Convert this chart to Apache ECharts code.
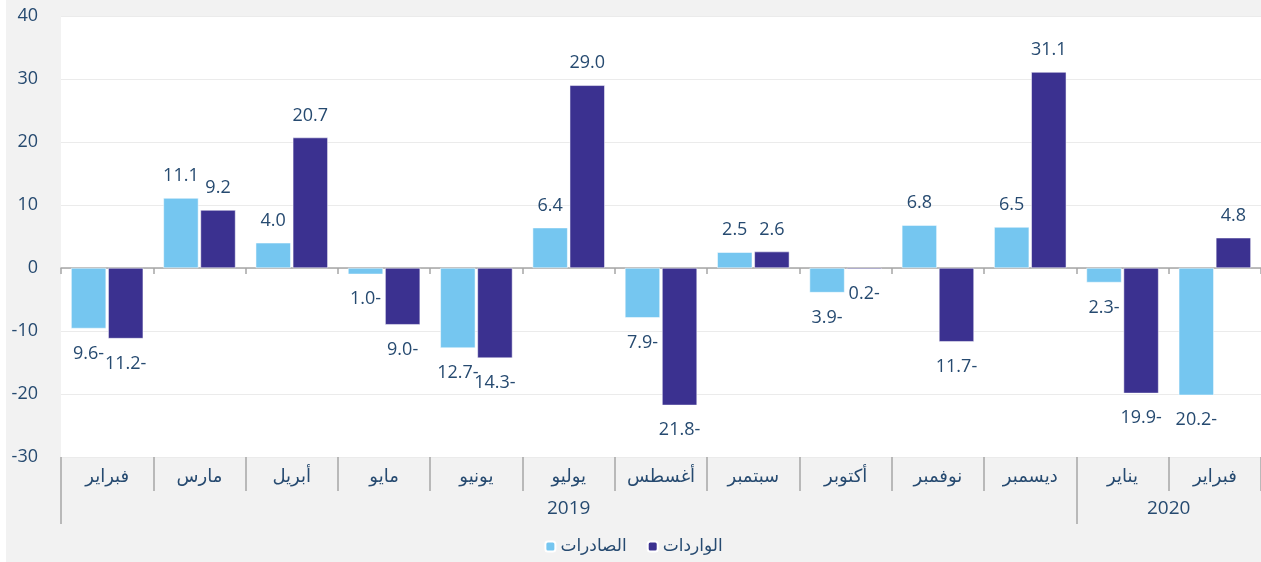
<!DOCTYPE html>
<html>
<head>
<meta charset="utf-8">
<script src="https://cdn.jsdelivr.net/npm/echarts@6/dist/echarts.min.js"></script>
<style>
html,body{margin:0;padding:0;background:#ffffff;}
#c{position:absolute;left:6px;top:0;width:1255px;height:562px;background:#f2f2f2;}
</style>
</head>
<body>
<div id="c"></div>
<script>
const months = ['فبراير','مارس','أبريل','مايو','يونيو','يوليو','أغسطس','سبتمبر','أكتوبر','نوفمبر','ديسمبر','يناير','فبراير'];
const years = ['2019','2020'];
const yearSpans = [11, 2];
const seriesNames = ['الصادرات','الواردات'];
const exportsData = [-9.6, 11.1, 4.0, -1.0, -12.7, 6.4, -7.9, 2.5, -3.9, 6.8, 6.5, -2.3, -20.2];
const importsData = [-11.2, 9.2, 20.7, -9.0, -14.3, 29.0, -21.8, 2.6, -0.2, -11.7, 31.1, -19.9, 4.8];
const yTicks = {min: -30, max: 40, interval: 10};

const FONT = "'Open Sans', 'DejaVu Sans', sans-serif";
const TXT = '#264a70';

const yearBounds = [0];
const yearCenters = [];
let acc = 0;
yearSpans.forEach(s => { yearCenters.push(acc + s / 2); acc += s; yearBounds.push(acc); });
yearBounds.pop();

function fmt(v) { return v < 0 ? Math.abs(v).toFixed(1) + '-' : v.toFixed(1); }
function toItems(arr) {
  return arr.map(v => ({
    value: v,
    label: { position: v < 0 ? 'bottom' : 'top', distance: v < 0 ? 16 : 13 }
  }));
}

const chart = echarts.init(document.getElementById('c'));
chart.setOption({
  animation: false,
  textStyle: { fontFamily: FONT },
  grid: { left: 55, right: 0, top: 16, bottom: 105, show: true, backgroundColor: '#ffffff', borderWidth: 0 },
  legend: {
    bottom: 2, left: 'center',
    itemWidth: 10, itemHeight: 10, itemGap: 20,
    textStyle: { fontSize: 17, color: TXT, fontFamily: FONT },
    data: seriesNames
  },
  xAxis: [
    {
      type: 'category', data: months,
      axisLine: { onZero: true, lineStyle: { color: '#a6a6a6', width: 1.5 } },
      axisTick: { show: true, length: 6, lineStyle: { color: '#a6a6a6', width: 1.5 } },
      axisLabel: { show: false }
    },
    {
      type: 'category', data: months, position: 'bottom',
      axisLine: { show: false, onZero: false },
      axisTick: { show: true, length: 34, lineStyle: { color: '#a6a6a6', width: 1.5 } },
      axisLabel: { margin: 11, fontSize: 18, color: TXT, fontFamily: FONT, interval: 0 }
    },
    {
      type: 'value', min: 0, max: months.length, position: 'bottom',
      axisLine: { show: false, onZero: false },
      splitLine: { show: false },
      axisTick: { show: true, length: 67, customValues: yearBounds, lineStyle: { color: '#a6a6a6', width: 1.5 } },
      axisLabel: {
        margin: 42, fontSize: 19, color: TXT, fontFamily: FONT,
        customValues: yearCenters,
        formatter: v => { const i = yearCenters.indexOf(v); return i >= 0 ? years[i] : ''; }
      }
    }
  ],
  yAxis: {
    type: 'value', min: yTicks.min, max: yTicks.max, interval: yTicks.interval,
    axisLine: { show: false }, axisTick: { show: false },
    axisLabel: { fontSize: 18, color: TXT, margin: 23, fontFamily: FONT },
    splitLine: { lineStyle: { color: '#ebebeb', width: 1 } }
  },
  series: [
    {
      name: seriesNames[0], type: 'bar', xAxisIndex: 0, data: toItems(exportsData),
      barWidth: 35, barGap: '6%',
      itemStyle: { color: '#75c6f0', borderColor: '#ffffff', borderWidth: 0.5 },
      label: { show: true, fontSize: 18, color: TXT, fontFamily: FONT, formatter: p => fmt(p.value) }
    },
    {
      name: seriesNames[1], type: 'bar', xAxisIndex: 0, data: toItems(importsData),
      barWidth: 35, barGap: '6%',
      itemStyle: { color: '#3b3190', borderColor: '#ffffff', borderWidth: 0.5 },
      label: { show: true, fontSize: 18, color: TXT, fontFamily: FONT, formatter: p => fmt(p.value) }
    }
  ]
});
</script>
</body>
</html>
